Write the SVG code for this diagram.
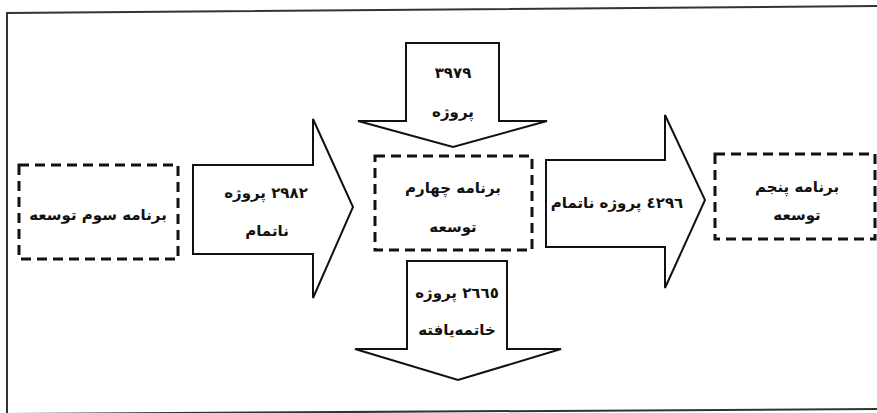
<svg xmlns="http://www.w3.org/2000/svg" width="877" height="413" viewBox="0 0 877 413">
<style>
.frame{fill:none;stroke:#333;stroke-width:2}
.box{fill:none;stroke:#111;stroke-width:3;stroke-dasharray:10 6}
.arrow{fill:#fff;stroke:#111;stroke-width:2;stroke-linejoin:miter}
.t{font-family:"DejaVu Sans",sans-serif;font-weight:bold;font-size:15px;fill:#111;text-anchor:middle;direction:rtl}
</style>
<rect width="877" height="413" fill="#fff"/>
<polyline class="frame" points="880,6 7,13 7,416"/>
<line class="frame" x1="7" y1="414" x2="880" y2="409"/>
<g id="connectors">
<g id="arrow-left">
<polygon class="arrow" points="193,165 313,165 313,119 353,207 313,298 313,254 193,254"/>
<text class="t" x="266" y="198">٢٩٨٢ پروژه</text>
<text class="t" x="267" y="236">ناتمام</text>
</g>
<g id="arrow-top">
<polygon class="arrow" points="406,43 499,43 499,121 547,121 453,147 358,121 406,121"/>
<text class="t" x="453" y="78">٣٩٧٩</text>
<text class="t" x="453" y="117">پروژه</text>
</g>
<g id="arrow-bottom">
<polygon class="arrow" points="407,261 507,261 507,349 561,349 458,380 355,349 407,349"/>
<text class="t" x="457" y="298">٢٦٦٥ پروژه</text>
<text class="t" x="457" y="335">خاتمه‌یافته</text>
</g>
<g id="arrow-right">
<polygon class="arrow" points="546,160 665,160 665,115 705,200 665,288 665,247 546,247"/>
<text class="t" x="617" y="208">٤٢٩٦ پروژه ناتمام</text>
</g>
</g>
<g id="node-third">
<rect class="box" x="19" y="165" width="159" height="94"/>
<text class="t" x="98" y="220">برنامه سوم توسعه</text>
</g>
<g id="node-fourth">
<rect class="box" x="375" y="156" width="157" height="94"/>
<text class="t" x="453" y="193">برنامه چهارم</text>
<text class="t" x="453" y="232">توسعه</text>
</g>
<g id="node-fifth">
<rect class="box" x="715" y="154" width="160" height="85"/>
<text class="t" x="797" y="192">برنامه پنجم</text>
<text class="t" x="797" y="220">توسعه</text>
</g>
</svg>
